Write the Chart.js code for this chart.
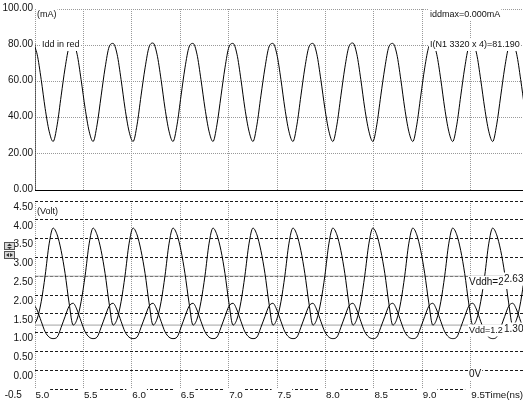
<!DOCTYPE html>
<html>
<head>
<meta charset="utf-8">
<script src="https://cdn.jsdelivr.net/npm/chart.js@4.4.0/dist/chart.umd.min.js"></script>
<style>
  html, body { margin: 0; padding: 0; background: #fff; }
  #wrap { position: relative; width: 523px; height: 403px; overflow: hidden; background: #fff; }
  #cTop { position: absolute; left: 0; top: 0; }
  #cBot { position: absolute; left: 0; top: 196px; }
</style>
</head>
<body>
<div id="wrap">
  <canvas id="cTop" width="523" height="196"></canvas>
  <canvas id="cBot" width="523" height="207"></canvas>
</div>
<script>
/* ---- data (time in ns) ---- */
const timeNs = [
  4.981, 5.022, 5.064, 5.105, 5.146, 5.187, 5.229, 5.270, 5.311, 5.352,
  5.394, 5.435, 5.476, 5.518, 5.559, 5.600, 5.641, 5.683, 5.724, 5.765,
  5.806, 5.848, 5.889, 5.930, 5.971, 6.013, 6.054, 6.095, 6.137, 6.178,
  6.219, 6.260, 6.302, 6.343, 6.384, 6.425, 6.467, 6.508, 6.549, 6.591,
  6.632, 6.673, 6.714, 6.756, 6.797, 6.838, 6.879, 6.921, 6.962, 7.003,
  7.045, 7.086, 7.127, 7.168, 7.210, 7.251, 7.292, 7.333, 7.375, 7.416,
  7.457, 7.498, 7.540, 7.581, 7.622, 7.664, 7.705, 7.746, 7.787, 7.829,
  7.870, 7.911, 7.952, 7.994, 8.035, 8.076, 8.118, 8.159, 8.200, 8.241,
  8.283, 8.324, 8.365, 8.406, 8.448, 8.489, 8.530, 8.571, 8.613, 8.654,
  8.695, 8.737, 8.778, 8.819, 8.860, 8.902, 8.943, 8.984, 9.025, 9.067,
  9.108, 9.149, 9.191, 9.232, 9.273, 9.314, 9.356, 9.397, 9.438, 9.479,
  9.521, 9.562, 9.603, 9.645, 9.686, 9.727, 9.768, 9.810, 9.851, 9.892,
  9.933, 9.975, 10.016, 10.057
];

// I(N1 3320 x 4), mA
const iddMa = [
  80.9, 75.0, 61.0, 45.0, 32.5, 26.8, 36.0, 52.0, 67.5, 79.0,
  81.0, 75.0, 61.0, 45.0, 32.5, 26.8, 36.0, 52.0, 67.5, 79.0,
  81.0, 75.0, 61.0, 45.0, 32.5, 26.8, 36.0, 52.0, 67.5, 79.0,
  81.2, 75.0, 61.0, 45.0, 32.5, 26.8, 36.0, 52.0, 67.5, 79.0,
  81.0, 75.0, 61.0, 45.0, 32.5, 26.8, 36.0, 52.0, 67.5, 79.0,
  81.0, 75.0, 61.0, 45.0, 32.5, 26.8, 36.0, 52.0, 67.5, 79.0,
  81.0, 75.0, 61.0, 45.0, 32.5, 26.8, 36.0, 52.0, 67.5, 79.0,
  81.0, 75.0, 61.0, 45.0, 32.5, 26.8, 36.0, 52.0, 67.5, 79.0,
  81.2, 75.0, 61.0, 45.0, 32.5, 26.8, 36.0, 52.0, 67.5, 79.0,
  81.0, 75.0, 61.0, 45.0, 32.5, 26.8, 36.0, 52.0, 67.5, 79.0,
  81.0, 75.0, 61.0, 45.0, 32.5, 26.8, 36.0, 52.0, 67.5, 79.0,
  81.0, 75.0, 61.0, 45.0, 32.5, 26.8, 36.0, 52.0, 67.5, 79.0,
  81.2, 75.0, 61.0, 45.0
];
// trace starts at 0 at t=5.0
const iddStartTime = [5.0, 5.0];
const iddStartMa = [0, 80.5];

// large swing (Vddh node), V
const vddhVolt = [
  1.20, 1.36, 1.82, 2.52, 3.36, 3.78, 3.60, 3.18, 2.57, 1.79,
  1.20, 1.36, 1.82, 2.52, 3.36, 3.78, 3.60, 3.18, 2.57, 1.79,
  1.20, 1.36, 1.82, 2.52, 3.36, 3.78, 3.60, 3.18, 2.57, 1.79,
  1.20, 1.36, 1.82, 2.52, 3.36, 3.78, 3.60, 3.18, 2.57, 1.79,
  1.20, 1.36, 1.82, 2.52, 3.36, 3.78, 3.60, 3.18, 2.57, 1.79,
  1.20, 1.36, 1.82, 2.52, 3.36, 3.78, 3.60, 3.18, 2.57, 1.79,
  1.20, 1.36, 1.82, 2.52, 3.36, 3.78, 3.60, 3.18, 2.57, 1.79,
  1.20, 1.36, 1.82, 2.52, 3.36, 3.78, 3.60, 3.18, 2.57, 1.79,
  1.20, 1.36, 1.82, 2.52, 3.36, 3.78, 3.60, 3.18, 2.57, 1.79,
  1.20, 1.36, 1.82, 2.52, 3.36, 3.78, 3.60, 3.18, 2.57, 1.79,
  1.20, 1.36, 1.82, 2.52, 3.36, 3.78, 3.60, 3.18, 2.57, 1.79,
  1.20, 1.36, 1.82, 2.52, 3.36, 3.78, 3.60, 3.18, 2.57, 1.79,
  1.20, 1.36, 1.82, 2.52
];

// small swing (Vdd node), V
const vddVolt = [
  1.77, 1.60, 1.30, 1.02, 0.88, 0.84, 0.88, 1.14, 1.43, 1.70,
  1.78, 1.60, 1.30, 1.02, 0.88, 0.84, 0.88, 1.14, 1.43, 1.70,
  1.78, 1.60, 1.30, 1.02, 0.88, 0.84, 0.88, 1.14, 1.43, 1.70,
  1.78, 1.60, 1.30, 1.02, 0.88, 0.84, 0.88, 1.14, 1.43, 1.70,
  1.78, 1.60, 1.30, 1.02, 0.88, 0.84, 0.88, 1.14, 1.43, 1.70,
  1.78, 1.60, 1.30, 1.02, 0.88, 0.84, 0.88, 1.14, 1.43, 1.70,
  1.78, 1.60, 1.30, 1.02, 0.88, 0.84, 0.88, 1.14, 1.43, 1.70,
  1.78, 1.60, 1.30, 1.02, 0.88, 0.84, 0.88, 1.14, 1.43, 1.70,
  1.78, 1.60, 1.30, 1.02, 0.88, 0.84, 0.88, 1.14, 1.43, 1.70,
  1.78, 1.60, 1.30, 1.02, 0.88, 0.84, 0.88, 1.14, 1.43, 1.70,
  1.78, 1.60, 1.30, 1.02, 0.88, 0.84, 0.88, 1.14, 1.43, 1.70,
  1.78, 1.60, 1.30, 1.02, 0.88, 0.84, 0.88, 1.14, 1.43, 1.70,
  1.78, 1.60, 1.30, 1.02
];

// supply reference levels: Vddh, Vdd
const refLevels = [2.5, 1.2];
const refTime = [5.0, 10.04];

// axis ticks
const timeTicks = [5.0, 5.5, 6.0, 6.5, 7.0, 7.5, 8.0, 8.5, 9.0, 9.5];
const timeTickLabels = ['5.0', '5.5', '6.0', '6.5', '7.0', '7.5', '8.0', '8.5', '9.0', '9.5Time(ns)'];
const iddTicks = [0, 20, 40, 60, 80, 100];
const iddTickLabels = ['0.00', '20.00', '40.00', '60.00', '80.00', '100.00'];
const voltTicks = [-0.5, 0, 0.5, 1.0, 1.5, 2.0, 2.5, 3.0, 3.5, 4.0, 4.5];
const voltTickLabels = ['-0.5    ', '0.00', '0.50', '1.00', '1.50', '2.00', '2.50', '3.00', '3.50', '4.00', '4.50'];

/* ---- look ---- */
const FONT = '"Liberation Sans", Arial, sans-serif';
const INK = '#111';
const DOTS = '#999';
Chart.defaults.font.family = FONT;

const pts = (xs, ys) => xs.map((x, i) => ({ x, y: ys[i] }));

function notes(items) {
  return {
    id: 'notes',
    afterDatasetsDraw(chart) {
      const ctx = chart.ctx;
      ctx.save();
      ctx.textBaseline = 'middle';
      ctx.textAlign = 'left';
      for (const it of items) {
        ctx.font = it.size + 'px ' + FONT;
        const w = ctx.measureText(it.text).width;
        ctx.fillStyle = '#fff';
        ctx.fillRect(it.x - 1, it.y - it.size / 2 - 1.5, w + 2, it.size + 3);
        ctx.fillStyle = INK;
        ctx.fillText(it.text, it.x, it.y);
      }
      ctx.restore();
    }
  };
}

// the little scroll buttons left of the volt axis
const scrollButtons = {
  id: 'scrollButtons',
  afterDraw(chart) {
    const ctx = chart.ctx;
    ctx.save();
    ctx.fillStyle = '#d8d8d8';
    ctx.strokeStyle = '#555';
    ctx.lineWidth = 1;
    ctx.fillRect(4, 46, 10, 7);
    ctx.strokeRect(4.5, 46.5, 10, 7);
    ctx.fillRect(4, 55, 10, 7);
    ctx.strokeRect(4.5, 55.5, 10, 7);
    ctx.fillStyle = '#333';
    ctx.beginPath();
    ctx.moveTo(9.5, 47.5); ctx.lineTo(12, 50); ctx.lineTo(7, 50); ctx.closePath();
    ctx.moveTo(7, 51); ctx.lineTo(12, 51); ctx.lineTo(9.5, 53); ctx.closePath();
    ctx.moveTo(6, 59); ctx.lineTo(9, 57); ctx.lineTo(9, 61); ctx.closePath();
    ctx.moveTo(13, 59); ctx.lineTo(10, 57); ctx.lineTo(10, 61); ctx.closePath();
    ctx.fill();
    ctx.restore();
  }
};

function traceSet(data, color) {
  return {
    data, borderColor: color, borderWidth: 1, pointRadius: 0,
    cubicInterpolationMode: 'monotone', fill: false
  };
}

const timeAxis = (showLabels) => ({
  type: 'linear', min: 5.0, max: 10.04,
  afterBuildTicks: s => { s.ticks = timeTicks.map(v => ({ value: v })); },
  afterFit: s => { s.height = showLabels ? 14 : 0; s.paddingLeft = 0; s.paddingRight = 0; },
  ticks: {
    display: showLabels, color: INK, font: { size: 9.8 }, padding: 0,
    align: 'start', labelOffset: 0.5, maxRotation: 0, minRotation: 0, autoSkip: false,
    callback: (v, i) => timeTickLabels[i],
    showLabelBackdrop: showLabels, backdropColor: '#fff',
    backdropPadding: { top: 1, bottom: 0, left: 6, right: 1 }
  },
  grid: { color: DOTS, lineWidth: 1, drawTicks: false },
  border: showLabels ? { display: false, dash: [1, 1] } : { display: true, color: '#000', width: 1, dash: [1, 1] }
});

/* ---- current plot ---- */
new Chart(document.getElementById('cTop'), {
  type: 'line',
  data: {
    datasets: [
      traceSet(pts(timeNs, iddMa), '#000'),
      { ...traceSet(pts(iddStartTime, iddStartMa), '#000'), cubicInterpolationMode: 'default', tension: 0 }
    ]
  },
  options: {
    responsive: false,
    animation: false,
    layout: { padding: { top: 9, bottom: 6, left: 0, right: 0 } },
    plugins: { legend: { display: false }, tooltip: { enabled: false } },
    scales: {
      x: timeAxis(false),
      y: {
        min: 0, max: 100,
        afterBuildTicks: s => { s.ticks = iddTicks.map(v => ({ value: v })); },
        afterFit: s => { s.width = 35; s.paddingTop = 0; s.paddingBottom = 0; },
        ticks: { color: INK, font: { size: 10 }, padding: 2, labelOffset: -1, callback: (v, i) => iddTickLabels[i] },
        grid: { color: DOTS, drawTicks: false },
        border: { display: false, dash: [1, 1] }
      }
    }
  },
  plugins: [notes([
    { text: '(mA)', x: 37, y: 15, size: 9 },
    { text: 'Idd in red', x: 42, y: 45, size: 9 },
    { text: 'iddmax=0.000mA', x: 430, y: 15, size: 9 },
    { text: 'I(N1 3320 x 4)=81.190', x: 430, y: 45, size: 9 }
  ])]
});

/* ---- voltage plot ---- */
new Chart(document.getElementById('cBot'), {
  type: 'line',
  data: {
    datasets: [
      traceSet(pts(timeNs, vddhVolt), '#000'),
      traceSet(pts(timeNs, vddVolt), '#000'),
      { ...traceSet(pts(refTime, refTime.map(() => refLevels[0])), '#a3a3a3'), tension: 0 },
      { ...traceSet(pts(refTime, refTime.map(() => refLevels[1])), '#a3a3a3'), tension: 0 }
    ]
  },
  options: {
    responsive: false,
    animation: false,
    layout: { padding: { top: 5, bottom: 0, left: 0, right: 0 } },
    plugins: { legend: { display: false }, tooltip: { enabled: false } },
    scales: {
      x: timeAxis(true),
      y: {
        min: -0.5, max: 4.5,
        afterBuildTicks: s => { s.ticks = voltTicks.map(v => ({ value: v })); },
        afterFit: s => { s.width = 35; s.paddingTop = 0; s.paddingBottom = 0; },
        ticks: { color: INK, font: { size: 10 }, padding: 2, labelOffset: 6, callback: (v, i) => voltTickLabels[i] },
        grid: { color: '#1a1a1a', drawTicks: false },
        border: { display: false, dash: [3, 2] }
      }
    }
  },
  plugins: [scrollButtons, notes([
    { text: '(Volt)', x: 37, y: 16, size: 9 },
    { text: 'Vddh=2.5', x: 469, y: 86.5, size: 10 },
    { text: '2.63', x: 504, y: 83, size: 10 },
    { text: 'Vdd=1.2', x: 469, y: 134.5, size: 9 },
    { text: '1.30', x: 504, y: 133, size: 10 },
    { text: '0V', x: 469, y: 178.5, size: 10 }
  ])]
});
</script>
</body>
</html>
